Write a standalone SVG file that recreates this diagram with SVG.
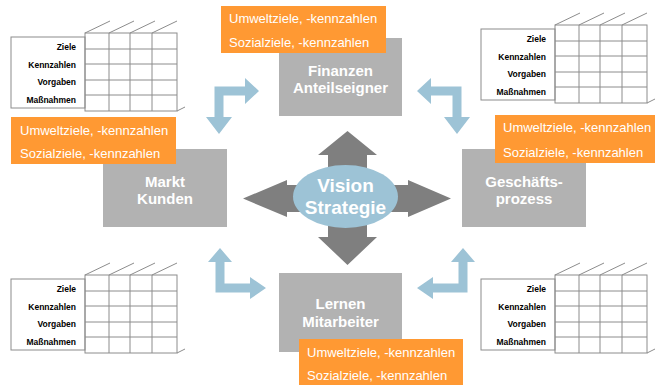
<svg xmlns="http://www.w3.org/2000/svg" xmlns:xlink="http://www.w3.org/1999/xlink" width="655" height="385" viewBox="0 0 655 385">
  <style>
    .grid line, .grid rect { stroke: #8c8c8c; stroke-width: 1; fill: none; }
    .lbl { fill: #ffffff; stroke: #8c8c8c; stroke-width: 1; }
    .row { font-family: "Liberation Sans", Arial, sans-serif; font-weight: bold; font-size: 8.5px; fill: #000000; text-anchor: end; }
    .box { fill: #b2b2b2; }
    .boxtxt { font-family: "Liberation Sans", Arial, sans-serif; font-weight: bold; font-size: 15px; fill: #ffffff; text-anchor: middle; }
    .note { fill: #ff9933; }
    .notetxt { font-family: "Liberation Sans", Arial, sans-serif; font-size: 13px; fill: #ffffff; }
    .flow { fill: #9dc3d6; }
    .cross { fill: #7f7f7f; }
    .core { fill: #9dc3d6; }
    .coretxt { font-family: "Liberation Sans", Arial, sans-serif; font-weight: bold; font-size: 19px; fill: #ffffff; text-anchor: middle; }
  </style>
  <defs>
    <!-- 3D key-figure table: label column plus 4x5 grid with depth edges -->
    <g id="table" class="grid">
      <rect class="lbl" x="-74" y="4" width="74" height="71"/>
      <rect x="0" y="0" width="92" height="78"/>
      <line x1="24" y1="0" x2="24" y2="78"/>
      <line x1="45" y1="0" x2="45" y2="78"/>
      <line x1="67" y1="0" x2="67" y2="78"/>
      <line x1="0" y1="16" x2="92" y2="16"/>
      <line x1="0" y1="31" x2="92" y2="31"/>
      <line x1="0" y1="47" x2="92" y2="47"/>
      <line x1="0" y1="62" x2="92" y2="62"/>
      <line x1="0" y1="0" x2="25" y2="-12"/>
      <line x1="24" y1="0" x2="49" y2="-12"/>
      <line x1="45" y1="0" x2="70" y2="-12"/>
      <line x1="67" y1="0" x2="92" y2="-12"/>
      <line x1="92" y1="78" x2="100" y2="74"/>
      <text class="row" x="-9" y="17">Ziele</text>
      <text class="row" x="-9" y="34.5">Kennzahlen</text>
      <text class="row" x="-9" y="52">Vorgaben</text>
      <text class="row" x="-9" y="69.5">Maßnahmen</text>
    </g>
  </defs>

  <!-- key-figure tables -->
  <g id="table-top-left"><use xlink:href="#table" transform="translate(85,33)"/></g>
  <g id="table-top-right"><use xlink:href="#table" transform="translate(555,25)"/></g>
  <g id="table-bottom-left"><use xlink:href="#table" transform="translate(85,275)"/></g>
  <g id="table-bottom-right"><use xlink:href="#table" transform="translate(555,275)"/></g>

  <!-- perspectives -->
  <g id="finanzen">
    <rect class="box" x="279" y="38" width="123" height="78"/>
    <text class="boxtxt" x="340.5" y="75.5">Finanzen</text>
    <text class="boxtxt" x="340.5" y="92.5">Anteilseigner</text>
  </g>
  <g id="markt">
    <rect class="box" x="103" y="149" width="124" height="78"/>
    <text class="boxtxt" x="165" y="187">Markt</text>
    <text class="boxtxt" x="165" y="204">Kunden</text>
  </g>
  <g id="prozess">
    <rect class="box" x="462" y="149" width="124" height="78"/>
    <text class="boxtxt" x="524" y="187">Geschäfts-</text>
    <text class="boxtxt" x="524" y="204">prozess</text>
  </g>
  <g id="lernen">
    <rect class="box" x="279" y="273" width="123" height="79"/>
    <text class="boxtxt" x="340.5" y="308.5">Lernen</text>
    <text class="boxtxt" x="340.5" y="327">Mitarbeiter</text>
  </g>

  <!-- environmental / social targets -->
  <g id="ziele-finanzen">
    <rect class="note" x="221" y="6" width="165" height="47"/>
    <text class="notetxt" x="229" y="22.5">Umweltziele, -kennzahlen</text>
    <text class="notetxt" x="229" y="46.5">Sozialziele, -kennzahlen</text>
  </g>
  <g id="ziele-markt">
    <rect class="note" x="11" y="117" width="165" height="47"/>
    <text class="notetxt" x="20" y="134.5">Umweltziele, -kennzahlen</text>
    <text class="notetxt" x="20" y="157.5">Sozialziele, -kennzahlen</text>
  </g>
  <g id="ziele-prozess">
    <rect class="note" x="495" y="115" width="160" height="48"/>
    <text class="notetxt" x="503" y="131.5">Umweltziele, -kennzahlen</text>
    <text class="notetxt" x="503" y="156.5">Sozialziele, -kennzahlen</text>
  </g>
  <g id="ziele-lernen">
    <rect class="note" x="299" y="339" width="164" height="46"/>
    <text class="notetxt" x="307" y="356.5">Umweltziele, -kennzahlen</text>
    <text class="notetxt" x="307" y="379.5">Sozialziele, -kennzahlen</text>
  </g>

  <!-- connectors: cyclic flow between perspectives and the central cross -->
  <g id="connectors">
    <polygon class="flow" points="214.5,86.5 245,86.5 245,78 259,91 245,104 245,95.5 223.5,95.5 223.5,117 232,117 219,134 206,117 214.5,117"/>
    <polygon class="flow" points="461.5,86.5 431,86.5 431,78 417,91 431,104 431,95.5 452.5,95.5 452.5,117 444,117 457,134 470,117 461.5,117"/>
    <polygon class="flow" points="215.5,292.5 250,292.5 250,299 266,288 250,277 250,283.5 224.5,283.5 224.5,262 232,262 220,248 208,262 215.5,262"/>
    <polygon class="flow" points="467.5,292.5 433,292.5 433,299 417,288 433,277 433,283.5 458.5,283.5 458.5,262 451,262 463,248 475,262 467.5,262"/>
    <polygon class="cross" points="347.5,131 377,155 367,155 367,185 408,185 408,180 451,198.5 408,217 408,212 367,212 367,237 377,237 347.5,265 318,237 328,237 328,212 287,212 287,217 243,198.5 287,180 287,185 328,185 328,155 318,155"/>
  </g>

  <!-- centre -->
  <g id="vision">
    <ellipse class="core" cx="345.5" cy="196.5" rx="52.5" ry="31.5"/>
    <text class="coretxt" x="345.5" y="192">Vision</text>
    <text class="coretxt" x="345.5" y="213.5">Strategie</text>
  </g>
</svg>
